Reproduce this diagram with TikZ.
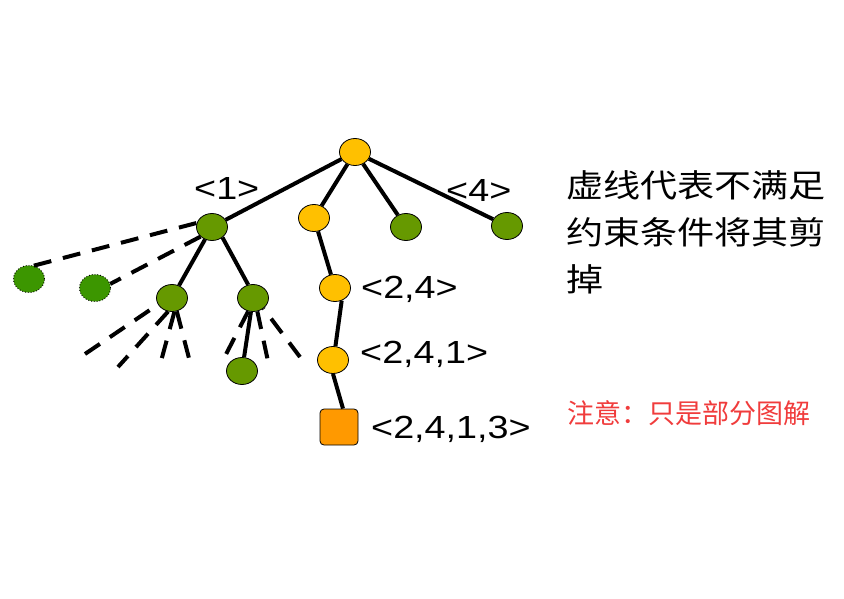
\documentclass[tikz,border=0pt]{standalone}
\usepackage{fontspec}
\setmainfont{Liberation Sans}
\newfontfamily\lab[FakeStretch=1.18]{Liberation Sans}
\newfontfamily\cjk[FakeStretch=1.16]{Noto Sans CJK SC}
\newfontfamily\cjkred{Noto Sans CJK SC}
\usetikzlibrary{shapes.geometric}
\begin{document}
\begin{tikzpicture}[x=1pt,y=-1pt,
  vert/.style={ellipse,draw=black,line width=0.8pt,minimum width=31pt,minimum height=27pt,inner sep=0pt},
  yel/.style={vert,fill=nodeyel},
  grn/.style={vert,fill=nodegrn},
  gone/.style={vert,fill=cutgrn,dotted,line width=1pt},
  leaf/.style={rectangle,rounded corners=4pt,draw=black,line width=0.8pt,fill=leaforange,minimum width=38pt,minimum height=36pt,inner sep=0pt},
  edge/.style={line width=4pt},
  prune/.style={line width=4pt,dash pattern=on 18pt off 12pt},
  lbl/.style={font=\lab\fontsize{32}{36}\selectfont,inner sep=0pt,anchor=base west}]
  \definecolor{nodeyel}{HTML}{FFC000}
  \definecolor{nodegrn}{HTML}{669900}
  \definecolor{cutgrn}{HTML}{3C9600}
  \definecolor{leaforange}{HTML}{FF9900}
  \definecolor{notered}{HTML}{F03C3C}
  \useasboundingbox (0,0) rectangle (844,599);
  \node [yel] (root) at (355,152) {};
  \node [grn] (n1) at (212,227) {};
  \node [yel] (n2) at (314,218) {};
  \node [grn] (n3) at (406,227) {};
  \node [grn] (n4) at (507,226) {};
  \node [grn] (n11) at (172,298) {};
  \node [grn] (n12) at (253,298) {};
  \node [grn] (n121) at (242,371) {};
  \node [yel] (n24) at (335,288) {};
  \node [yel] (n241) at (333,360) {};
  \node [leaf] (n2413) at (339,427) {};
  \node [gone] (d1) at (29,279) {};
  \node [gone] (d2) at (95,288) {};
  \draw [edge] (root) -- (n1);
  \draw [edge] (root) -- (n2);
  \draw [edge] (root) -- (n3);
  \draw [edge] (root) -- (n4);
  \draw [edge] (n1) -- (n11);
  \draw [edge] (n1.-45) -- (n12.110);
  \draw [edge] (n121) -- (n12);
  \draw [edge] (n2) -- (n24);
  \draw [edge] (n24.-62) -- (n241.80);
  \draw [edge] (n241.south) -- ([xshift=4pt]n2413.north);
  \coordinate (c1) at (85,354);
  \coordinate (c2) at (118,367);
  \coordinate (c3) at (160,365);
  \coordinate (c4) at (191,366);
  \coordinate (c5) at (222,362);
  \coordinate (c6) at (269,366);
  \coordinate (c7) at (300,357);
  \draw [prune] (d1.70) -- (n1.165);
  \draw [prune] (n1.-140) -- (d2.15);
  \draw [prune] (c1) -- (n11.-155);
  \draw [prune] (n11.-106) -- (c2);
  \draw [prune] (n11.-80) -- (c3);
  \draw [prune] (n11.-70) -- (c4);
  \draw [prune] (n12.-110) -- (c5);
  \draw [prune] (n12.-72) -- (c6);
  \draw [prune] (c7) -- (n12.-45);
  \node [lbl] (l1) at (194,200) {<1>};
  \node [lbl] (l4) at (446,202) {<4>};
  \node [lbl] (l24) at (361,298) {<2,4>};
  \node [lbl] (l241) at (360,363) {<2,4,1>};
  \node [lbl] (l2413) at (371,438) {<2,4,1,3>};
  \node [font=\cjk\fontsize{32}{47}\selectfont,align=left,anchor=north west,inner sep=0pt] (note) at (566,170) {虚线代表不满足\\约束条件将其剪\\掉};
  \node [font=\cjkred\fontsize{27}{30}\selectfont,text=notered,anchor=west,inner sep=0pt] (warn) at (567,413) {注意：只是部分图解};
\end{tikzpicture}
\end{document}
